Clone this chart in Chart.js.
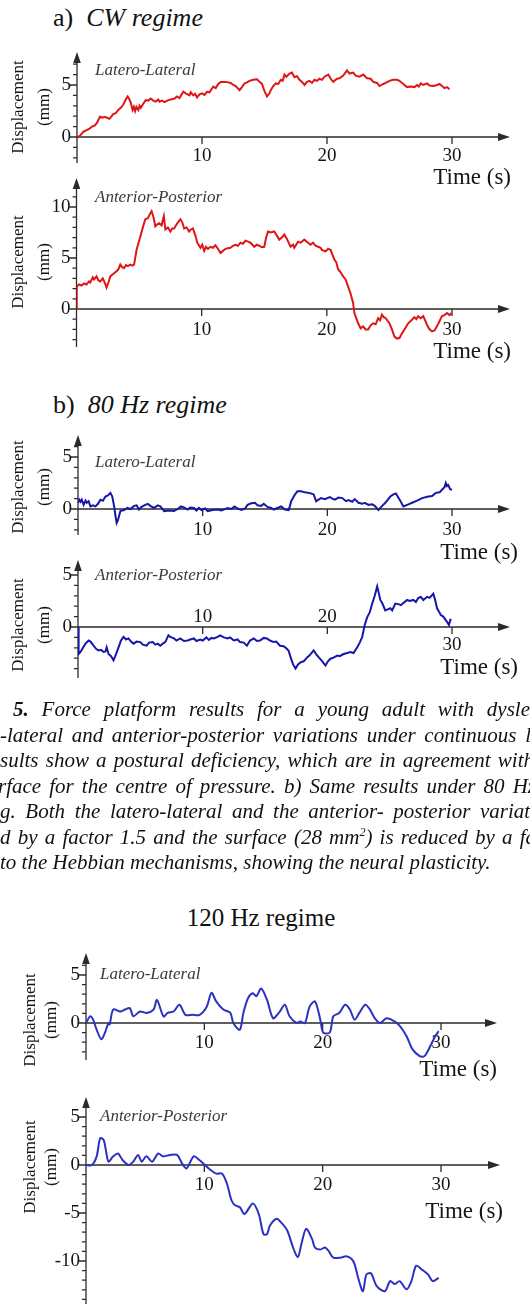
<!DOCTYPE html>
<html>
<head>
<meta charset="utf-8">
<script src="https://cdn.jsdelivr.net/npm/chart.js@4.4.0/dist/chart.umd.min.js"></script>
<style>
body { margin: 0; background: #fff; }
#page { position: relative; width: 530px; height: 1304px; overflow: hidden; font-family: "Liberation Serif", "Times New Roman", serif; color: #111; }
canvas { position: absolute; left: 0; }
.title { position: absolute; font-size: 26px; line-height: 30px; white-space: nowrap; }
.title i { margin-left: 13px; }
.cap { position: absolute; font-style: italic; font-size: 21px; line-height: 25px; height: 25px; text-align: justify; text-align-last: justify; white-space: normal; }
</style>
</head>
<body>
<div id="page">
  <div class="title" style="left:53px;top:3px">a)<i>CW regime</i></div>
  <canvas id="p1" width="530" height="150" style="top:45px"></canvas>
  <canvas id="p2" width="530" height="195" style="top:172px"></canvas>

  <div class="title" style="left:53px;top:390px">b)<i>80 Hz regime</i></div>
  <canvas id="p3" width="530" height="140" style="top:428px"></canvas>
  <canvas id="p4" width="530" height="130" style="top:553px"></canvas>

  <div class="cap" style="left:13px;width:517px;top:697px"><b>5.</b> Force platform results for a young adult with dysle</div>
  <div class="cap" style="left:0;width:531px;top:723px">-lateral and anterior-posterior variations under continuous l</div>
  <div class="cap" style="left:0;width:534px;top:748px">sults show a postural deficiency, which are in agreement with</div>
  <div class="cap" style="left:-2px;width:538px;top:774px">rface for the centre of pressure. b) Same results under 80 Hz</div>
  <div class="cap" style="left:0;width:536px;top:799px">g. Both the latero-lateral and the anterior- posterior variati</div>
  <div class="cap" style="left:0;width:536px;top:825px">d by a factor 1.5 and the surface (28 mm<sup style="font-size:12px;line-height:0">2</sup>) is reduced by a fa</div>
  <div class="cap" style="left:0;top:850px;text-align:left;text-align-last:left;white-space:nowrap">to the Hebbian mechanisms, showing the neural plasticity.</div>

  <div class="title" style="left:0;width:522px;text-align:center;top:903px;font-size:25px">120 Hz regime</div>
  <canvas id="p5" width="530" height="140" style="top:946px"></canvas>
  <canvas id="p6" width="530" height="214" style="top:1090px"></canvas>
</div>

<script>
// time (s), displacement (mm)
const cwLatero = [[0,-0.1],[0.3,0.2],[0.5,0.5],[0.77,0.67],[1.0,0.8],[1.2,1.0],[1.4,1.1],[1.57,1.3],[1.84,1.95],[2.0,1.85],
  [2.2,1.95],[2.4,1.85],[2.6,1.75],[2.9,2.2],[3.1,2.3],[3.3,2.6],[3.5,2.8],[3.7,3.1],[3.9,3.6],[4.05,3.9],
  [4.2,3.6],[4.3,3.3],[4.45,2.6],[4.55,2.9],[4.65,2.5],[4.75,2.9],[4.9,2.6],[5.0,3.0],[5.1,2.8],[5.3,3.2],
  [5.5,3.55],[5.7,3.5],[5.9,3.7],[6.1,3.5],[6.3,3.4],[6.5,3.6],[6.6,3.4],[6.8,3.5],[7.0,3.35],[7.3,3.55],
  [7.5,3.6],[7.8,3.7],[8.0,3.9],[8.2,3.75],[8.5,4.35],[8.7,4.2],[9.0,4.0],[9.1,4.3],[9.3,4.0],[9.45,4.15],
  [9.6,3.8],[9.8,4.1],[10.0,4.2],[10.2,4.05],[10.4,4.35],[10.6,4.3],[10.9,4.85],[11.1,4.7],[11.3,5.1],[11.5,5.3],
  [11.9,5.3],[12.3,5.2],[12.5,5.0],[12.7,4.9],[13.0,4.5],[13.2,4.8],[13.4,5.15],[13.6,5.25],[13.8,5.4],[14.1,5.5],
  [14.4,5.55],[14.6,5.3],[14.8,5.1],[15.0,4.4],[15.2,3.9],[15.4,4.2],[15.5,4.5],[15.7,4.9],[15.9,5.15],[16.1,5.1],
  [16.3,5.5],[16.45,5.4],[16.6,6.0],[16.75,5.8],[17.0,6.1],[17.2,6.2],[17.4,5.75],[17.6,5.85],[17.8,5.5],[18.0,5.3],
  [18.2,5.0],[18.4,5.3],[18.6,5.4],[18.8,5.2],[19.0,5.5],[19.2,5.4],[19.4,5.6],[19.6,5.5],[19.8,5.8],[20.1,6.0],
  [20.3,5.6],[20.5,5.3],[20.8,5.6],[21.0,5.65],[21.3,5.9],[21.6,6.4],[21.8,6.1],[22.1,6.2],[22.3,5.9],[22.6,5.8],
  [22.9,6.0],[23.2,5.65],[23.5,5.6],[23.7,5.3],[24.0,5.2],[24.2,4.9],[24.5,5.1],[24.7,5.2],[25.0,5.4],[25.3,5.5],
  [25.6,5.5],[25.8,5.4],[26.1,5.1],[26.4,4.8],[26.7,4.85],[27.0,4.8],[27.2,5.0],[27.35,4.85],[27.5,5.15],[27.7,5.0],
  [28.0,5.15],[28.2,4.95],[28.5,4.9],[28.8,5.0],[29.0,5.1],[29.2,4.9],[29.4,4.7],[29.6,4.8],[29.8,4.6]]

const cwAnterior = [[0,0],[0.02,2.2],[0.2,2.4],[0.4,2.3],[0.6,2.5],[0.8,2.4],[1.0,2.7],[1.1,2.6],[1.3,3.1],[1.4,2.9],
  [1.6,3.2],[1.75,2.8],[1.9,2.7],[2.1,3.0],[2.25,2.6],[2.4,2.1],[2.55,2.6],[2.7,3.2],[2.9,3.4],[3.0,3.5],
  [3.2,3.7],[3.35,3.9],[3.5,4.35],[3.65,4.1],[3.8,4.0],[3.95,4.3],[4.1,4.2],[4.3,4.35],[4.45,4.25],[4.6,4.35],
  [4.8,5.8],[5.1,7.1],[5.3,8.0],[5.5,8.8],[5.7,8.9],[5.9,9.4],[6.0,9.6],[6.15,9.0],[6.3,8.1],[6.45,8.3],
  [6.6,8.4],[6.8,8.2],[6.98,9.1],[7.1,7.8],[7.3,8.0],[7.5,7.6],[7.65,7.9],[7.8,7.9],[8.05,8.4],[8.3,8.8],
  [8.45,8.5],[8.6,7.9],[8.8,8.0],[9.0,7.6],[9.15,7.8],[9.3,7.9],[9.5,7.2],[9.65,6.5],[9.9,6.0],[10.05,6.3],
  [10.2,5.7],[10.35,6.1],[10.5,5.9],[10.7,6.1],[10.9,6.0],[11.1,6.25],[11.3,5.9],[11.5,5.5],[11.7,5.7],[11.9,5.9],
  [12.1,5.95],[12.3,6.0],[12.5,6.2],[12.7,6.3],[12.9,6.2],[13.1,6.5],[13.3,6.4],[13.5,6.7],[13.7,6.6],[13.9,6.5],
  [14.2,6.1],[14.4,6.3],[14.6,6.2],[14.8,6.05],[15.0,6.1],[15.15,7.0],[15.3,7.6],[15.5,7.5],[15.8,7.6],[16.0,7.2],
  [16.2,6.8],[16.4,7.0],[16.6,7.3],[16.8,6.9],[17.1,6.1],[17.3,6.3],[17.4,6.0],[17.7,6.6],[17.9,6.5],[18.2,6.8],
  [18.4,6.6],[18.7,6.3],[18.9,6.5],[19.1,6.2],[19.3,6.1],[19.5,6.0],[19.6,5.8],[19.9,5.65],[20.1,5.9],[20.3,5.8],
  [20.6,4.85],[20.75,4.6],[20.9,3.9],[21.1,3.6],[21.3,3.2],[21.5,2.9],[21.7,2.2],[21.9,1.5],[22.1,0.6],[22.2,-0.4],
  [22.35,-0.9],[22.5,-1.4],[22.7,-1.9],[22.9,-1.7],[23.1,-2.0],[23.3,-2.0],[23.5,-1.6],[23.7,-1.4],[23.9,-1.5],[24.1,-0.9],
  [24.25,-1.1],[24.4,-0.55],[24.55,-0.8],[24.7,-0.9],[25.0,-1.4],[25.2,-2.0],[25.4,-2.7],[25.6,-2.9],[25.8,-2.85],[26.0,-2.4],
  [26.2,-2.0],[26.5,-1.4],[26.8,-1.05],[27.0,-0.8],[27.15,-1.0],[27.3,-0.7],[27.5,-0.9],[27.7,-0.7],[27.85,-1.1],[28.0,-1.55],
  [28.2,-2.0],[28.4,-2.2],[28.6,-2.1],[28.8,-1.7],[29.0,-1.2],[29.2,-0.7],[29.4,-0.6],[29.6,-0.4],[29.8,-0.6],[29.95,-0.4]]

const hz80Latero = [[0,0.6],[0.1,0.9],[0.2,0.7],[0.3,0.9],[0.45,0.4],[0.6,0.8],[0.7,0.6],[0.85,0.75],[1.0,0.25],[1.2,0.35],
  [1.4,0.25],[1.6,0.5],[1.8,0.9],[2.0,0.8],[2.2,1.2],[2.4,1.3],[2.6,1.55],[2.75,1.2],[2.9,0.25],[3.0,-0.6],
  [3.1,-1.35],[3.2,-1.1],[3.4,-0.2],[3.7,-0.1],[3.95,0.1],[4.2,0],[4.5,0.3],[4.7,0.35],[4.9,-0.05],[5.1,0.2],
  [5.4,0.4],[5.6,0.5],[5.8,0.3],[6.1,0.1],[6.4,0.35],[6.6,0.25],[6.8,0],[6.9,-0.2],[7.3,-0.15],[7.7,-0.2],
  [8.0,0],[8.25,0.25],[8.5,0.15],[8.8,-0.05],[9.0,0.15],[9.3,0.1],[9.5,-0.15],[9.7,0.1],[9.9,-0.1],[10.2,0.05],
  [10.4,-0.2],[10.8,-0.1],[11.2,-0.05],[11.5,-0.15],[12.0,0.1],[12.3,0.0],[12.55,0.25],[12.8,0.05],[13.1,-0.1],[13.4,0.05],
  [13.6,0.4],[13.9,0.55],[14.2,0.6],[14.4,0.35],[14.7,0.3],[14.9,0.5],[15.2,0.2],[15.5,0.1],[15.7,-0.05],[16.0,0.1],
  [16.3,0.25],[16.6,-0.05],[16.9,-0.1],[17.0,0.3],[17.1,0.75],[17.4,1.4],[17.6,1.7],[17.9,1.7],[18.2,1.6],[18.5,1.55],
  [18.7,1.5],[18.9,1.4],[19.1,0.75],[19.3,0.9],[19.5,1.05],[19.8,0.95],[20.2,1.15],[20.4,1.0],[20.6,0.9],[20.9,1.1],
  [21.2,1.05],[21.5,0.75],[21.7,0.85],[22.0,0.7],[22.2,0.95],[22.5,0.6],[22.8,0.5],[23.0,0.6],[23.3,0.4],[23.6,0.45],
  [23.8,0.3],[24.1,-0.1],[24.4,0.3],[24.65,0.6],[25.05,1.2],[25.3,1.4],[25.5,1.5],[25.8,0.9],[26.1,0.25],[26.5,0.45],
  [26.8,0.6],[27.2,0.8],[27.6,1.05],[28.1,1.2],[28.4,1.25],[28.7,1.55],[29.0,1.6],[29.2,1.85],[29.4,2.1],[29.5,2.5],
  [29.6,2.2],[29.7,2.3],[29.85,1.9],[30.0,1.85]]

const hz80Anterior = [[0,0],[0.05,-2.6],[0.2,-2.4],[0.4,-2.0],[0.6,-1.6],[0.85,-1.3],[1.0,-1.4],[1.25,-1.8],[1.45,-2.1],[1.65,-2.25],
  [1.85,-2.2],[2.05,-2.4],[2.2,-2.35],[2.3,-1.95],[2.45,-2.6],[2.65,-2.8],[2.85,-3.2],[3.05,-2.6],[3.25,-1.95],[3.45,-1.3],
  [3.65,-0.95],[3.85,-1.2],[4.05,-1.1],[4.25,-1.4],[4.45,-1.6],[4.7,-1.4],[5.0,-1.45],[5.2,-1.7],[5.5,-1.8],[5.7,-1.5],
  [6.0,-1.45],[6.2,-1.7],[6.4,-1.6],[6.6,-1.8],[6.8,-1.6],[7.0,-1.45],[7.25,-0.8],[7.4,-0.95],[7.7,-1.1],[7.9,-1.3],
  [8.2,-1.1],[8.5,-1.35],[8.8,-1.3],[9.0,-1.2],[9.3,-1.1],[9.5,-1.35],[9.8,-1.2],[10.0,-1.3],[10.3,-1.0],[10.5,-1.25],
  [10.7,-1.05],[10.9,-1.1],[11.2,-0.95],[11.4,-0.8],[11.7,-1.0],[12.0,-1.1],[12.2,-1.0],[12.5,-1.3],[12.8,-1.2],[13.0,-1.45],
  [13.3,-1.5],[13.55,-1.8],[13.8,-1.3],[14.1,-1.1],[14.35,-1.35],[14.6,-1.3],[14.9,-1.05],[15.15,-1.1],[15.4,-1.3],[15.7,-1.45],
  [15.9,-1.4],[16.2,-1.8],[16.5,-1.85],[16.75,-2.1],[16.9,-2.3],[17.05,-2.9],[17.25,-3.6],[17.45,-4.0],[17.65,-3.6],[17.85,-3.4],
  [18.1,-3.3],[18.4,-2.9],[18.6,-2.7],[18.9,-2.25],[19.1,-2.6],[19.3,-2.9],[19.6,-3.3],[19.85,-3.7],[20.05,-3.3],[20.25,-3.05],
  [20.5,-2.95],[20.8,-2.75],[21.0,-2.8],[21.3,-2.6],[21.6,-2.5],[21.85,-2.4],[22.1,-2.5],[22.4,-1.95],[22.6,-1.5],[22.8,-0.95],
  [23.0,0.2],[23.2,0.95],[23.4,1.4],[23.6,2.25],[23.8,3.0],[24.0,3.9],[24.1,3.4],[24.25,2.6],[24.4,2.3],[24.65,1.6],
  [24.85,1.7],[25.05,1.8],[25.2,1.6],[25.45,2.25],[25.7,2.2],[25.9,2.1],[26.1,2.3],[26.4,2.6],[26.6,2.5],[26.9,2.6],
  [27.1,2.4],[27.3,2.8],[27.5,2.9],[27.7,2.6],[28.0,2.9],[28.2,2.8],[28.5,3.2],[28.65,2.6],[28.8,1.8],[28.95,1.5],
  [29.1,1.15],[29.3,1.0],[29.6,0.5],[29.75,0.2],[29.9,0.8]]

const hz120Latero = [[0,0],[0.35,0.7],[0.6,0.35],[0.9,-0.7],[1.3,-1.7],[1.6,-1.0],[1.9,0],[2.0,-0.15],[2.3,1.4],[2.9,1.2],
  [3.3,1.4],[3.7,1.55],[4.0,0.7],[4.55,1.2],[5.1,1.05],[5.7,1.4],[6.0,2.4],[6.55,0.7],[6.9,1.05],[7.4,1.2],
  [7.9,1.9],[8.4,0.85],[9.0,0.85],[9.6,0.85],[10.2,1.7],[10.6,3.15],[11.0,2.25],[11.6,1.4],[12.2,1.05],[12.45,0],
  [13.0,-0.7],[13.3,1.05],[13.7,2.6],[14.1,3.1],[14.4,2.8],[14.8,3.6],[15.3,2.4],[15.8,0.5],[16.3,1.05],[16.8,1.9],
  [17.2,0.7],[17.8,0],[18.1,0.15],[18.5,0],[18.9,1.7],[19.35,2.25],[19.8,0.35],[20.05,-1.0],[20.6,-1.0],[20.9,0.7],
  [21.4,1.05],[21.9,1.9],[22.3,1.4],[22.7,0.35],[23.1,1.05],[23.6,1.9],[24.0,1.4],[24.4,0.5],[24.85,0],[25.4,0.5],
  [26.1,0.15],[26.55,-0.35],[27.1,-1.4],[27.6,-2.75],[28.2,-3.45],[28.6,-3.45],[29.1,-2.4],[29.5,-1.4],[29.8,-0.85]]

const hz120Anterior = [[0,0],[0.5,0],[0.9,0.9],[1.2,2.8],[1.5,2.6],[1.7,1.4],[1.9,0.35],[2.3,0.9],[2.7,1.2],[3.1,0.5],
  [3.6,0],[4.0,0.35],[4.4,1.05],[4.7,0.35],[5.1,0.9],[5.6,0.35],[6.1,1.2],[6.5,0.9],[7.1,1.05],[7.7,1.05],
  [8.1,0.2],[8.5,-0.35],[9.1,0.9],[9.6,0.5],[10.05,0],[10.5,-0.5],[11.0,-0.9],[11.5,-0.9],[11.9,-1.9],[12.3,-3.7],
  [12.6,-4.2],[13.0,-4.4],[13.4,-5.1],[14.1,-4.0],[14.6,-5.1],[15.0,-7.2],[15.3,-7.2],[15.55,-6.3],[16.1,-5.6],[16.5,-6.0],
  [17.0,-6.8],[17.5,-8.6],[17.9,-9.6],[18.2,-8.25],[18.6,-6.65],[19.1,-7.7],[19.35,-8.6],[19.8,-8.8],[20.2,-8.6],[20.5,-8.95],
  [20.9,-9.65],[21.5,-9.65],[22.0,-9.5],[22.45,-9.8],[22.7,-10.35],[23.0,-11.75],[23.4,-13.15],[23.7,-11.4],[24.1,-11.3],[24.55,-12.6],
  [25.25,-13.15],[25.7,-12.1],[26.1,-12.4],[26.5,-12.1],[27.1,-12.95],[27.5,-12.1],[27.9,-10.5],[28.4,-10.9],[28.9,-11.4],[29.3,-12.1],
  [29.8,-11.75]]

const xTicks = [10, 20, 30]
const yTicksSmall = [0, 5]
const yTicksCwAnterior = [0, 5, 10]
const yTicks120Anterior = [-10, -5, 0, 5]

const red = 'rgb(222, 22, 22)'
const blue80 = 'rgb(22, 22, 168)'
const blue120 = 'rgb(44, 50, 192)'
const axisColor = '#2b2b2b'
const serif = '"Liberation Serif", "Times New Roman", serif'

// page positions of each panel (px)
const panels = [
  { id: 'p1', data: cwLatero, color: red, name: 'Latero-Lateral', yTicks: yTicksSmall, tension: 0,
    top: 45, height: 150, x0: 77, x30: 452, tip: 510, yTop: 52, yZero: 137, yFive: 85, yBottom: 163,
    labelY: 107, dispX: 19, mmX: 45, nameX: 95, nameY: 71, timeX: 511, timeY: 178, tickDy: 19, above: [] },
  { id: 'p2', data: cwAnterior, color: red, name: 'Anterior-Posterior', yTicks: yTicksCwAnterior, tension: 0,
    top: 172, height: 195, x0: 76.5, x30: 452, tip: 510, yTop: 178, yZero: 309, yFive: 258, yBottom: 347,
    labelY: 262, dispX: 19, mmX: 45, nameX: 95, nameY: 198, timeX: 511, timeY: 352, tickDy: 21, above: [] },
  { id: 'p3', data: hz80Latero, color: blue80, name: 'Latero-Lateral', yTicks: yTicksSmall, tension: 0,
    top: 428, height: 140, x0: 78, x30: 452, tip: 510, yTop: 435, yZero: 509, yFive: 457, yBottom: 535,
    labelY: 487, dispX: 19, mmX: 45, nameX: 95, nameY: 463, timeX: 518, timeY: 553, tickDy: 21, above: [] },
  { id: 'p4', data: hz80Anterior, color: blue80, name: 'Anterior-Posterior', yTicks: yTicksSmall, tension: 0,
    top: 553, height: 130, x0: 78, x30: 452, tip: 510, yTop: 560, yZero: 627, yFive: 575, yBottom: 678,
    labelY: 625, dispX: 19, mmX: 45, nameX: 95, nameY: 576, timeX: 518, timeY: 668, tickDy: 18, above: [10, 20] },
  { id: 'p5', data: hz120Latero, color: blue120, name: 'Latero-Lateral', yTicks: yTicksSmall, tension: 0.3,
    top: 946, height: 140, x0: 86, x30: 441, tip: 497, yTop: 953, yZero: 1023, yFive: 975, yBottom: 1060,
    labelY: 1020, dispX: 31, mmX: 52, nameX: 100, nameY: 975, timeX: 497, timeY: 1070, tickDy: 20, above: [] },
  { id: 'p6', data: hz120Anterior, color: blue120, name: 'Anterior-Posterior', yTicks: yTicks120Anterior, tension: 0.3,
    top: 1090, height: 214, x0: 86, x30: 441, tip: 500, yTop: 1097, yZero: 1165, yFive: 1117, yBottom: 1304,
    labelY: 1167, dispX: 31, mmX: 52, nameX: 100, nameY: 1117, timeX: 503, timeY: 1212, tickDy: 20, above: [] }
]

function axesFor(p) {
  return {
    id: 'axes_' + p.id,
    beforeDatasetsDraw(chart) {
      const ctx = chart.ctx
      const xs = chart.scales.x
      const ys = chart.scales.y
      const a = chart.chartArea
      const ox = xs.getPixelForValue(0)
      const oy = ys.getPixelForValue(0)

      ctx.save()
      ctx.strokeStyle = axisColor
      ctx.fillStyle = axisColor
      ctx.lineWidth = 1.3

      ctx.beginPath()
      ctx.moveTo(ox, oy)
      ctx.lineTo(a.right - 6, oy)
      ctx.moveTo(ox, a.top + 6)
      ctx.lineTo(ox, a.bottom)
      // y ticks, every mm
      for (let v = Math.ceil(ys.min); v <= Math.floor(ys.max); v++) {
        const y = ys.getPixelForValue(v)
        if (y < a.top + 11) continue
        const len = p.yTicks.includes(v) ? 7 : 4
        ctx.moveTo(ox - len, y)
        ctx.lineTo(ox, y)
      }
      xTicks.forEach(t => {
        const x = xs.getPixelForValue(t)
        ctx.moveTo(x, oy)
        ctx.lineTo(x, oy + 7)
      })
      ctx.stroke()

      // arrow heads
      ctx.beginPath()
      ctx.moveTo(a.right, oy)
      ctx.lineTo(a.right - 12, oy - 4)
      ctx.lineTo(a.right - 12, oy + 4)
      ctx.closePath()
      ctx.moveTo(ox, a.top)
      ctx.lineTo(ox - 3.8, a.top + 11)
      ctx.lineTo(ox + 3.8, a.top + 11)
      ctx.closePath()
      ctx.fill()

      ctx.fillStyle = '#151515'
      ctx.textBaseline = 'middle'
      ctx.font = '19px ' + serif
      ctx.textAlign = 'center'
      xTicks.forEach(t => {
        const x = xs.getPixelForValue(t)
        const y = p.above.includes(t) ? oy - 10 : oy + p.tickDy
        ctx.fillText(String(t), x, y)
      })
      ctx.textAlign = 'right'
      p.yTicks.forEach(v => {
        ctx.fillText(String(v), ox - 6, ys.getPixelForValue(v))
      })

      ctx.font = '23px ' + serif
      ctx.fillText('Time (s)', p.timeX, p.timeY - p.top)

      ctx.textAlign = 'left'
      ctx.fillStyle = '#3a3a3a'
      ctx.font = 'italic 17px ' + serif
      ctx.fillText(p.name, p.nameX, p.nameY - p.top)

      ctx.fillStyle = '#151515'
      ctx.font = '17px ' + serif
      ctx.textAlign = 'center'
      ctx.save()
      ctx.translate(p.dispX, p.labelY - p.top)
      ctx.rotate(-Math.PI / 2)
      ctx.fillText('Displacement', 0, 0)
      ctx.restore()
      ctx.save()
      ctx.translate(p.mmX, p.labelY - p.top)
      ctx.rotate(-Math.PI / 2)
      ctx.fillText('(mm)', 0, 0)
      ctx.restore()

      ctx.restore()
    }
  }
}

panels.forEach(p => {
  const ppm = (p.yZero - p.yFive) / 5
  new Chart(document.getElementById(p.id), {
    type: 'line',
    data: {
      datasets: [{
        data: p.data.map(d => ({ x: d[0], y: d[1] })),
        borderColor: p.color,
        borderWidth: 2,
        pointRadius: 0,
        tension: p.tension,
        fill: false
      }]
    },
    options: {
      responsive: false,
      animation: false,
      events: [],
      layout: {
        padding: {
          left: p.x0,
          right: 530 - p.tip,
          top: p.yTop - p.top,
          bottom: p.top + p.height - p.yBottom
        }
      },
      scales: {
        x: { type: 'linear', display: false, min: 0, max: 30 * (p.tip - p.x0) / (p.x30 - p.x0) },
        y: { type: 'linear', display: false, min: -(p.yBottom - p.yZero) / ppm, max: (p.yZero - p.yTop) / ppm }
      },
      plugins: {
        legend: { display: false },
        tooltip: { enabled: false }
      }
    },
    plugins: [axesFor(p)]
  })
})
</script>
</body>
</html>
